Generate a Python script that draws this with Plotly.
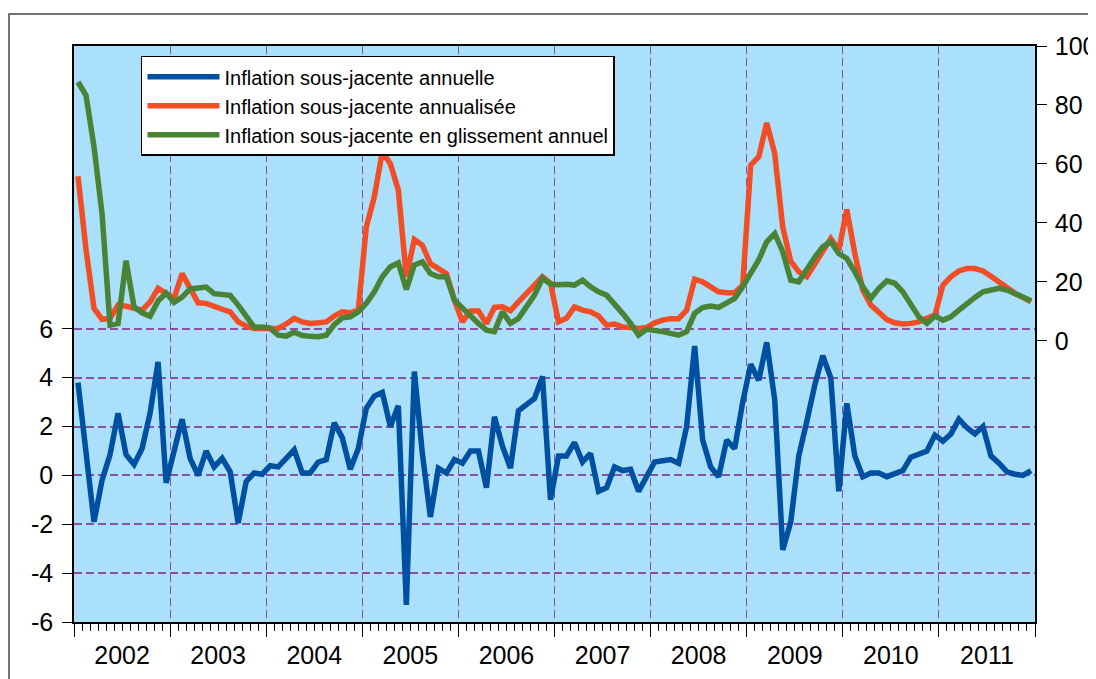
import plotly.graph_objects as go

# monthly series, Jan 2002 .. Dec 2011
years = ["2002", "2003", "2004", "2005", "2006", "2007", "2008", "2009", "2010", "2011"]

annuelle = [
    3.8, 0.9, -1.9, -0.2, 0.85, 2.55, 0.85, 0.45, 1.1, 2.55, 4.65, -0.3,
    0.9, 2.3, 0.7, 0.0, 1.0, 0.35, 0.7, 0.15, -1.95, -0.25, 0.1, 0.05,
    0.4, 0.35, 0.7, 1.05, 0.1, 0.1, 0.55, 0.65, 2.15, 1.55, 0.25, 1.1,
    2.75, 3.25, 3.4, 2.0, 2.85, -5.3, 4.25, 0.9, -1.7, 0.3, 0.1, 0.65,
    0.5, 1.0, 1.0, -0.5, 2.4, 1.2, 0.3, 2.65, 2.9, 3.15, 4.05, -1.0,
    0.8, 0.8, 1.35, 0.55, 0.9, -0.65, -0.5, 0.35, 0.2, 0.25, -0.65, -0.05,
    0.55, 0.6, 0.65, 0.5, 2.0, 5.3, 1.45, 0.35, -0.05, 1.45, 1.1, 3.0,
    4.55, 3.9, 5.45, 3.1, -3.05, -1.9, 0.8, 2.2, 3.7, 4.9, 4.0, -0.65,
    2.95, 0.8, -0.05, 0.1, 0.1, -0.05, 0.05, 0.2, 0.75, 0.9, 1.0, 1.65,
    1.4, 1.7, 2.3, 1.95, 1.7, 2.0, 0.8, 0.5, 0.15, 0.05, 0.0, 0.2,
]

annualisee = [
    55.8, 31.0, 11.0, 7.3, 7.6, 12.1, 11.7, 11.0, 10.4, 13.2, 17.8, 16.1,
    14.4, 22.8, 18.3, 12.9, 12.7, 11.5, 10.7, 9.8, 6.4, 5.0, 4.2, 4.2,
    4.2, 4.2, 5.7, 7.6, 6.4, 5.9, 6.1, 6.4, 8.4, 9.8, 9.5, 10.4,
    38.6, 48.8, 64.1, 60.1, 51.1, 21.7, 34.4, 32.4, 26.2, 24.5, 22.8, 13.8,
    6.4, 10.1, 10.1, 5.9, 11.3, 11.5, 10.2, 13.2, 16.1, 18.9, 21.7, 19.5,
    6.4, 7.6, 11.5, 10.4, 9.8, 8.4, 5.3, 5.7, 4.7, 4.5, 4.2, 4.5,
    6.1, 7.0, 7.5, 7.5, 10.4, 20.9, 20.0, 18.3, 16.6, 16.3, 16.3, 18.9,
    59.6, 62.4, 73.9, 63.5, 38.6, 27.0, 23.4, 21.7, 26.2, 30.7, 34.7, 30.7,
    44.5, 29.6, 17.2, 12.1, 9.5, 7.2, 6.1, 5.7, 5.9, 6.4, 7.6, 8.7,
    18.9, 21.7, 23.7, 24.5, 24.5, 23.7, 21.9, 20.0, 17.8, 16.1, 14.7, 13.2,
]

glissement = [
    87.8, 83.3, 65.8, 43.2, 5.3, 5.9, 27.2, 11.5, 9.5, 8.3, 13.5, 16.2,
    13.0, 14.8, 17.6, 17.8, 18.2, 16.0, 15.7, 15.4, 12.1, 8.6, 4.6, 4.7,
    4.3, 1.9, 1.6, 2.9, 1.8, 1.5, 1.4, 1.9, 5.5, 7.8, 8.1, 9.8,
    12.7, 16.6, 21.7, 25.1, 26.4, 17.4, 25.7, 26.8, 22.8, 21.7, 21.7, 13.8,
    11.0, 8.1, 5.9, 3.6, 3.1, 9.8, 5.9, 7.6, 11.5, 15.5, 21.2, 19.2,
    19.0, 19.2, 18.9, 20.6, 18.3, 16.6, 15.5, 12.7, 9.3, 5.9, 1.9, 3.9,
    3.6, 3.1, 2.5, 1.9, 3.1, 9.3, 11.3, 11.8, 11.3, 12.9, 14.4, 18.3,
    22.8, 27.4, 33.6, 36.4, 30.2, 20.6, 20.0, 24.5, 28.3, 31.9, 33.6, 29.6,
    27.9, 23.4, 18.3, 14.4, 17.8, 20.3, 19.5, 16.6, 12.7, 8.1, 5.9, 8.4,
    7.0, 8.1, 10.4, 12.7, 14.7, 16.6, 17.4, 17.8, 17.2, 16.1, 14.9, 13.6,
]

left_ticks = [-6, -4, -2, 0, 2, 4, 6]
left_labels = ["-6", "-4", "-2", "0", "2", "4", "6"]
right_ticks = [0, 20, 40, 60, 80, 100]

months = list(range(len(annuelle)))
year_centers = [12 * k + 5.5 for k in range(len(years))]
year_bounds = [12 * k - 0.5 for k in range(len(years) + 1)]

FONT = "Liberation Sans, Arial, sans-serif"
GRID = "#8a4fa6"

fig = go.Figure()
fig.add_trace(go.Scatter(
    x=months, y=annuelle, name="Inflation sous-jacente annuelle",
    mode="lines", line=dict(color="#0050a2", width=5.5),
))
fig.add_trace(go.Scatter(
    x=months, y=annualisee, name="Inflation sous-jacente annualisée",
    mode="lines", line=dict(color="#f24d25", width=5.5),
    xaxis="x2", yaxis="y2",
))
fig.add_trace(go.Scatter(
    x=months, y=glissement, name="Inflation sous-jacente en glissement annuel",
    mode="lines", line=dict(color="#4a8236", width=5.5),
    xaxis="x2", yaxis="y2",
))

# page body has an 8px margin, so the figure is 8px smaller and margins shifted
fig.update_layout(
    template="none",
    width=1088, height=671,
    margin=dict(l=66, r=61, t=38, b=57),
    paper_bgcolor="white",
    plot_bgcolor="#aae0fa",
    font=dict(family=FONT, color="black"),
    showlegend=True,
    legend=dict(
        x=0.0697, y=0.983, xanchor="left", yanchor="top",
        bgcolor="white", bordercolor="black", borderwidth=1.5,
        font=dict(size=20, family=FONT), tracegroupgap=0,
        itemwidth=72,
    ),
    xaxis=dict(
        range=[-0.5, 119.5], automargin=False,
        tickmode="array", tickvals=year_bounds, showticklabels=False,
        ticks="outside", ticklen=13, tickwidth=1.3, tickcolor="black",
        showgrid=True, gridcolor=GRID, gridwidth=1, griddash="8px,4px",
        showline=True, linecolor="black", linewidth=1.5, mirror=True,
        zeroline=False,
        minor=dict(tickmode="linear", tick0=-0.5, dtick=1, ticks="outside",
                   ticklen=7, tickwidth=1, tickcolor="black", showgrid=False),
    ),
    xaxis2=dict(
        range=[-0.5, 119.5], overlaying="x", anchor="y2", side="bottom",
        automargin=False, tickmode="array", tickvals=year_centers, ticktext=years,
        ticks="", showgrid=False, showline=False, zeroline=False,
        tickfont=dict(size=25, family=FONT), ticklabelstandoff=16,
    ),
    yaxis=dict(
        range=[-6, 17.58], automargin=False,
        tickmode="array", tickvals=left_ticks, ticktext=left_labels,
        ticks="outside", ticklen=10, tickwidth=1.3, tickcolor="black",
        tickfont=dict(size=25, family=FONT), ticklabelstandoff=4,
        showgrid=True, gridcolor=GRID, gridwidth=1.5, griddash="8px,4px",
        showline=True, linecolor="black", linewidth=1.5, zeroline=False,
    ),
    yaxis2=dict(
        range=[-95.4, 100], overlaying="y", side="right", anchor="x2",
        automargin=False, tickmode="array", tickvals=right_ticks,
        ticks="outside", ticklen=10, tickwidth=1.3, tickcolor="black",
        tickfont=dict(size=25, family=FONT), ticklabelstandoff=3,
        showgrid=False, showline=True, linecolor="black", linewidth=1.5,
        zeroline=False,
    ),
    shapes=[dict(
        type="rect", xref="paper", yref="paper",
        x0=-0.0676, x1=1.0604, y0=-0.2, y1=1.0556,
        line=dict(color="#444444", width=1.5), layer="above",
    )],
)

fig.write_html("out.html")
